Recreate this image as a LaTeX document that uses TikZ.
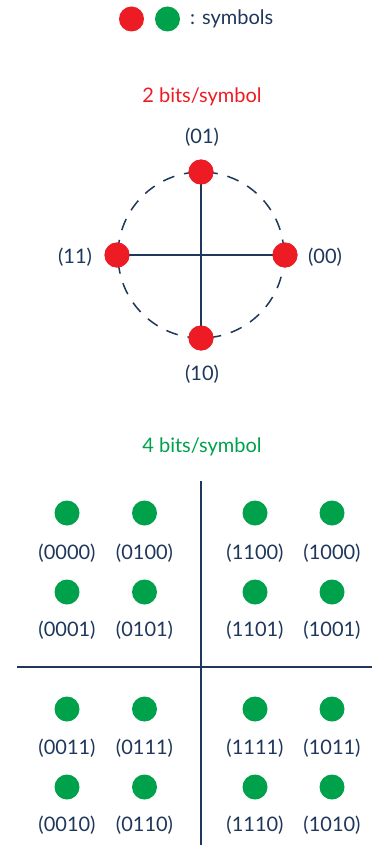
\documentclass[tikz,border=0pt]{standalone}
\usepackage{fontspec}
\setmainfont{Lato}
\definecolor{navy}{RGB}{30,55,90}
\definecolor{sred}{RGB}{237,28,36}
\definecolor{sgreen}{RGB}{0,161,75}
\begin{document}
\begin{tikzpicture}[x=1pt,y=-1pt,
  reddot/.style={circle,fill=sred,minimum size=25pt,inner sep=0pt},
  greendot/.style={circle,fill=sgreen,minimum size=25pt,inner sep=0pt},
  lbl/.style={text=navy,font=\fontsize{20}{22}\selectfont,inner sep=0pt},
  ttl/.style={font=\fontsize{20}{22}\selectfont,inner sep=0pt},
  axis/.style={draw=navy,line width=2pt}]
\useasboundingbox (0,0) rectangle (372,845);
% legend
\node[reddot] (lr) at (131.5,19) {};
\node[greendot] (lg) at (167.5,19) {};
\node[lbl,anchor=west] (lt) at (190,19) {: symbols};
% 2 bits
\node[ttl,text=sred] (t2) at (202,97) {2 bits/symbol};
\coordinate (c) at (201,255);
\draw[navy,line width=1.5pt,dash pattern=on 12pt off 10pt] (c) circle[radius=83];
\node[reddot] (p01) at (201,172) {};
\node[reddot] (p10) at (201,338) {};
\node[reddot] (p11) at (117,255) {};
\node[reddot] (p00) at (285,255) {};
\draw[axis] (p01.center) -- (p10.center);
\draw[axis] (p11.center) -- (p00.center);
\node[reddot] at (p01) {};
\node[reddot] at (p10) {};
\node[reddot] at (p11) {};
\node[reddot] at (p00) {};
\node[lbl] (l01) at (202,137) {(01)};
\node[lbl] (l10) at (202,374) {(10)};
\node[lbl] (l11) at (75,257) {(11)};
\node[lbl] (l00) at (325,257) {(00)};
% 4 bits
\node[ttl,text=sgreen] (t4) at (202,447) {4 bits/symbol};
\coordinate (vt) at (201,481);
\coordinate (vb) at (201,845);
\coordinate (hl) at (17,667);
\coordinate (hr) at (372,667);
\draw[axis] (vt) -- (vb);
\draw[axis] (hl) -- (hr);
\foreach \x/\n in {67/a,144.5/b,255/c,332/d}{
  \foreach \y/\m in {513/1,592/2,709/3,787/4}{
    \node[greendot] (g\n\m) at (\x,\y) {};
  }
}
\node[lbl] (la1) at (67,553) {(0000)};
\node[lbl] (lb1) at (144.5,553) {(0100)};
\node[lbl] (lc1) at (255,553) {(1100)};
\node[lbl] (ld1) at (332,553) {(1000)};
\node[lbl] (la2) at (67,630) {(0001)};
\node[lbl] (lb2) at (144.5,630) {(0101)};
\node[lbl] (lc2) at (255,630) {(1101)};
\node[lbl] (ld2) at (332,630) {(1001)};
\node[lbl] (la3) at (67,748) {(0011)};
\node[lbl] (lb3) at (144.5,748) {(0111)};
\node[lbl] (lc3) at (255,748) {(1111)};
\node[lbl] (ld3) at (332,748) {(1011)};
\node[lbl] (la4) at (67,825) {(0010)};
\node[lbl] (lb4) at (144.5,825) {(0110)};
\node[lbl] (lc4) at (255,825) {(1110)};
\node[lbl] (ld4) at (332,825) {(1010)};
\end{tikzpicture}
\end{document}
